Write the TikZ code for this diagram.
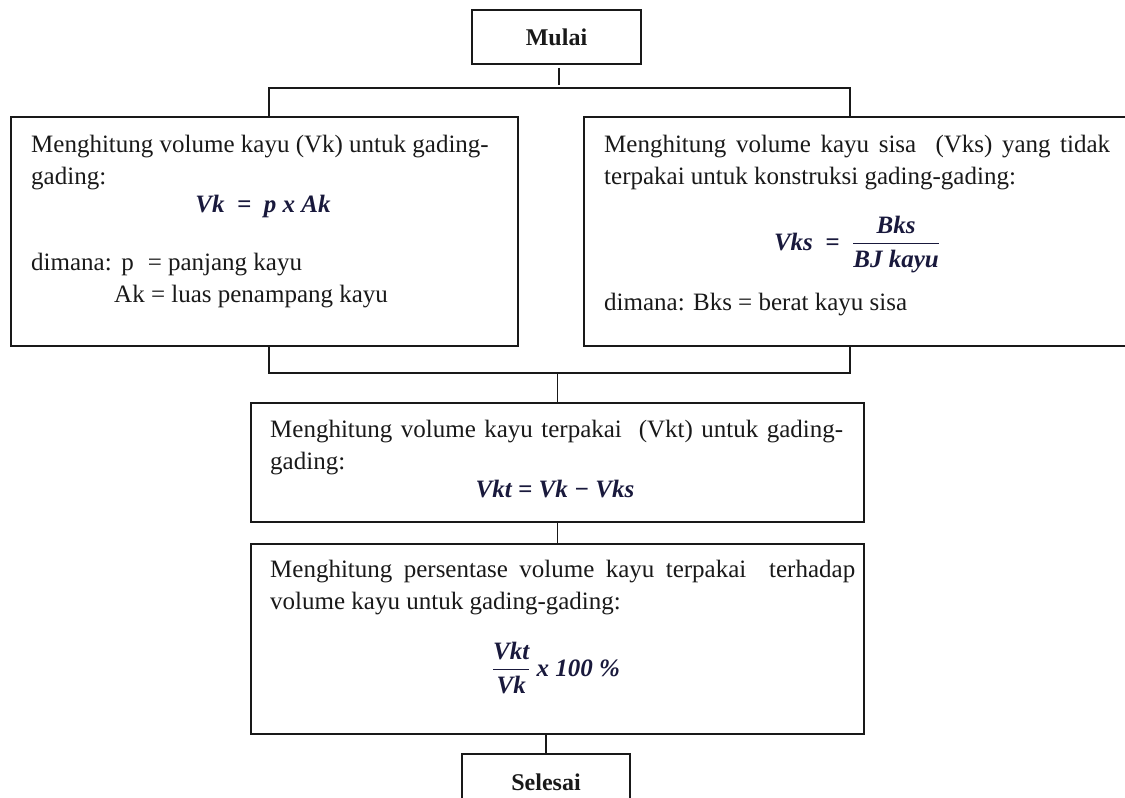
\documentclass[tikz,border=0pt]{standalone}
\usepackage{fontspec}
\setmainfont{Liberation Serif}
\usepackage{amsmath}
\usetikzlibrary{calc}
\definecolor{fcol}{RGB}{25,25,60}
\definecolor{ink}{RGB}{25,25,25}
\newcommand{\fbi}[1]{\hbox{\color{fcol}\bfseries\itshape #1}}
\tikzset{
  box/.style={draw=ink, line width=1.6pt, rectangle, inner sep=0pt},
  txt/.style={anchor=base west, inner sep=0pt, text=ink, font=\fontsize{25}{32}\selectfont},
  fml/.style={anchor=base, inner sep=0pt, text=fcol, font=\fontsize{25}{32}\selectfont},
  link/.style={draw=ink, line width=1.6pt},
  term/.style={box, font=\fontsize{24}{30}\selectfont\bfseries, text=ink}
}
\begin{document}
\begin{tikzpicture}[x=1pt,y=-1pt]
\useasboundingbox (0,0) rectangle (1125,798);
\clip (0,0) rectangle (1125,798);

% terminal and process boxes
\node[term, minimum width=169pt, minimum height=54pt] (mulai) at (556.5,37) {Mulai};
\node[box, anchor=north west, minimum width=507pt, minimum height=229pt] (lbox) at (10,116) {};
\node[box, anchor=north west, minimum width=545pt, minimum height=229pt] (rbox) at (583,116) {};
\node[box, anchor=north west, minimum width=613pt, minimum height=119pt] (m3) at (250,402) {};
\node[box, anchor=north west, minimum width=613pt, minimum height=190pt] (m4) at (250,543) {};
\node[term, anchor=north, minimum width=168pt, text height=37pt, text depth=40pt, inner ysep=0pt] (sel) at (546,753) {Selesai};

% connectors
\coordinate (tl) at (269,88);
\coordinate (tr) at (850,88);
\coordinate (bl) at (269,373);
\coordinate (br) at (850,373);
\draw[link] ($(mulai.south)+(2.5,3)$) -- ($(mulai.south |- tl)+(2.5,-3)$);
\draw[link] (tl |- lbox.north) -- (tl) -- (tr) -- (tr |- rbox.north);
\draw[link] (bl |- lbox.south) -- (bl) -- (br) -- (br |- rbox.south);
\draw[link] (m3.north) -- (m3.north |- bl);
\draw[link] (m3.south) -- (m4.north);
\draw[link] (m4.south -| sel.north) -- (sel.north);

% left box text
\node[txt] (l1) at (31,152) {Menghitung volume kayu (Vk) untuk gading-};
\node[txt] (l2) at (31,184) {gading:};
\node[fml] (l3) at (263,212) {\fbi{Vk\ \ =\ \ p x Ak}};
\node[txt] (l4) at (31,270) {dimana:\hspace{9.5pt}p\hspace{14pt}= panjang kayu};
\node[txt] (l5) at (114,302) {Ak = luas penampang kayu};

% right box text
\node[txt] (r1) at (604,152) {\makebox[506pt][s]{Menghitung volume kayu sisa\ \ (Vks) yang tidak}};
\node[txt] (r2) at (604,184) {terpakai untuk konstruksi gading-gading:};
\node[fml] (r3) at (857,250) {$\fbi{Vks\ \ =\ \ }\genfrac{}{}{1.3pt}{0}{\fbi{Bks}}{\fbi{BJ kayu}}$};
\node[txt] (r4) at (604,310) {dimana: Bks = berat kayu sisa};

% box 3 text
\node[txt] (t31) at (270,437) {\makebox[573pt][s]{Menghitung volume kayu terpakai\ \ (Vkt) untuk gading-}};
\node[txt] (t32) at (270,469) {gading:};
\node[fml] (t33) at (555,497) {\fbi{Vkt = Vk − Vks}};

% box 4 text
\node[txt] (t41) at (270,577) {\makebox[585pt][s]{Menghitung persentase volume kayu terpakai\ \ terhadap}};
\node[txt] (t42) at (270,609) {volume kayu untuk gading-gading:};
\node[fml] (t43) at (556,676) {$\genfrac{}{}{1.3pt}{0}{\fbi{Vkt}}{\fbi{Vk}}\ \fbi{x 100 \%}$};
\end{tikzpicture}
\end{document}
